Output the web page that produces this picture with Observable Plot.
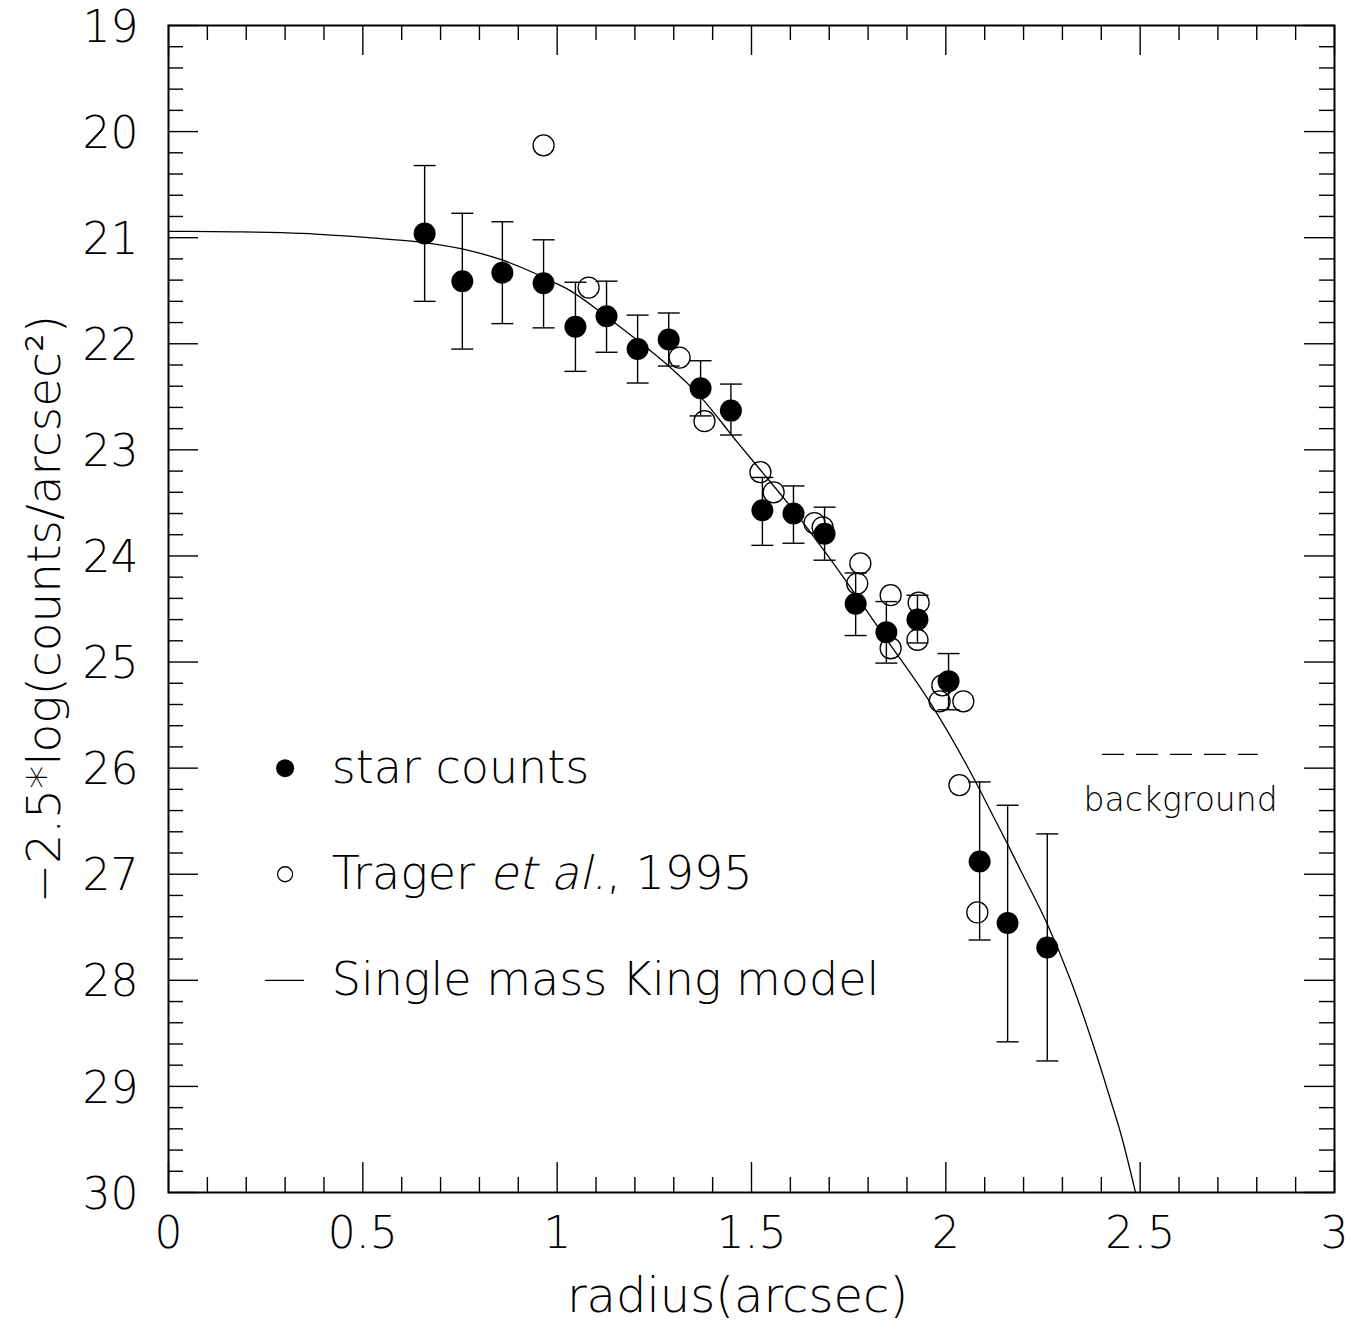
<!DOCTYPE html>
<html><head><meta charset="utf-8">
<script src="https://cdn.jsdelivr.net/npm/d3@7"></script>
<script src="https://cdn.jsdelivr.net/npm/@observablehq/plot@0.6"></script>
<style>
html,body{margin:0;padding:0;background:#fff;}
#chart svg{display:block;}
</style></head><body><div id="chart"></div>
<script>
// ---- star counts (filled circles with error bars) ----
const starR  = [0.659,0.756,0.859,0.965,1.047,1.127,1.207,1.287,1.369,1.447,1.528,1.608,1.688,1.768,1.847,1.927,2.007,2.087,2.159,2.261];
const starMu = [20.96,21.41,21.33,21.43,21.84,21.74,22.05,21.96,22.42,22.63,23.57,23.60,23.79,24.45,24.72,24.60,25.18,26.88,27.46,27.69];
const starLo = [20.32,20.77,20.85,21.02,21.42,21.41,21.73,21.71,22.16,22.38,23.26,23.34,23.54,24.16,24.43,24.37,24.92,26.13,26.35,26.62];
const starHi = [21.60,22.05,21.81,21.85,22.26,22.08,22.37,22.21,22.68,22.86,23.90,23.88,24.04,24.75,25.01,24.82,25.45,27.62,28.58,28.76];
// ---- Trager et al. 1995 (open circles) ----
const tragerR  = [0.965,1.081,1.315,1.379,1.523,1.557,1.662,1.683,1.780,1.772,1.858,1.858,1.930,1.927,1.991,1.984,2.045,2.035,2.081];
const tragerMu = [20.13,21.47,22.13,22.73,23.21,23.40,23.69,23.73,24.07,24.26,24.37,24.87,24.44,24.79,25.22,25.37,25.37,26.16,27.36];
// ---- single mass King model ----
const kingR  = [0,0.172,0.343,0.515,0.643,0.772,0.858,0.945,0.991,1.029,1.129,1.207,1.284,1.369,1.464,1.523,1.593,1.685,1.850,1.961,2.071,2.123,2.158,2.192,2.261,2.321,2.390,2.424,2.449,2.488];
const kingMu = [20.94,20.945,20.96,21.00,21.04,21.12,21.21,21.34,21.42,21.49,21.75,21.97,22.20,22.50,22.93,23.19,23.50,23.94,24.80,25.39,26.09,26.46,26.71,26.96,27.47,28.00,28.73,29.13,29.43,30.0];
// ---- axes ----
const xTickLabels = [0, 0.5, 1, 1.5, 2, 2.5, 3];
const yTickLabels = [19,20,21,22,23,24,25,26,27,28,29,30];
const xTitle = "radius(arcsec)";
const yTitle = "\u22122.5*log(counts/arcsec\u00B2)";
// ---- legend ----
const legendItems = ["star counts", "Trager et al., 1995", "Single mass King model"];
const bgLabel = "background";

const W = 1364, H = 1324, mL = 168, mR = 30, mT = 25, mB = 132;
const fw = W - mL - mR, fh = H - mT - mB;
const FONT = "'DejaVu Sans', sans-serif";

const stars = starR.map((r, i) => ({r, mu: starMu[i], lo: starLo[i], hi: starHi[i]}));
const trager = tragerR.map((r, i) => ({r, mu: tragerMu[i]}));
const king = kingR.map((r, i) => ({r, mu: kingMu[i]}));

const xMinor = d3.range(0, 3.0001, 0.1).filter(v => Math.abs(v * 2 - Math.round(v * 2)) > 1e-6);
const yMinor = d3.range(19, 30.0001, 0.2).filter(v => Math.abs(v - Math.round(v)) > 1e-6);

const cap = {draw(ctx, size) { const h = Math.sqrt(size / Math.PI); ctx.moveTo(-h, 0); ctx.lineTo(h, 0); }};

const leg = [
  {x: 0.3, y: 26, text: legendItems[0]},
  {x: 0.3, y: 27, text: legendItems[1]},
  {x: 0.3, y: 28, text: legendItems[2]}
];

const tick = {stroke: "black", strokeWidth: 1.4};

const chart = Plot.plot({
  width: W, height: H,
  marginLeft: mL, marginRight: mR, marginTop: mT, marginBottom: mB,
  style: {fontFamily: FONT, fontWeight: 200, background: "white", color: "black"},
  x: {domain: [0, 3], axis: null},
  y: {domain: [19, 30], reverse: true, axis: null},
  marks: [
    // ticks (inward, all four sides)
    Plot.tickX(xTickLabels, {x: d => d, insetTop: fh - 30, ...tick}),
    Plot.tickX(xMinor, {x: d => d, insetTop: fh - 15, ...tick}),
    Plot.tickX(xTickLabels, {x: d => d, insetBottom: fh - 30, ...tick}),
    Plot.tickX(xMinor, {x: d => d, insetBottom: fh - 15, ...tick}),
    Plot.tickY(yTickLabels, {y: d => d, insetRight: fw - 30, ...tick}),
    Plot.tickY(yMinor, {y: d => d, insetRight: fw - 15, ...tick}),
    Plot.tickY(yTickLabels, {y: d => d, insetLeft: fw - 30, ...tick}),
    Plot.tickY(yMinor, {y: d => d, insetLeft: fw - 15, ...tick}),
    Plot.frame({stroke: "black", strokeWidth: 2}),
    // tick labels
    Plot.text(xTickLabels, {x: d => d, text: d => String(d), frameAnchor: "bottom", lineAnchor: "middle", dy: 41, fontSize: 44, fill: "black"}),
    Plot.text(yTickLabels, {y: d => d, text: d => String(d), frameAnchor: "left", lineAnchor: "middle", dx: -30, dy: 2, textAnchor: "end", fontSize: 44, fill: "black"}),
    // axis titles
    Plot.text([xTitle], {text: d => d, frameAnchor: "bottom", lineAnchor: "middle", textAnchor: "middle", dy: 104, dx: -14, fontSize: 48, fill: "black"}),
    Plot.text([yTitle], {text: d => d, frameAnchor: "left", lineAnchor: "middle", textAnchor: "middle", dx: -124, rotate: -90, fontSize: 47, fill: "black"}),
    // King model
    Plot.line(king, {x: "r", y: "mu", curve: "monotone-x", stroke: "black", strokeWidth: 1.3}),
    // error bars
    Plot.ruleX(stars, {x: "r", y1: "lo", y2: "hi", stroke: "black", strokeWidth: 1.4}),
    Plot.dot(stars, {x: "r", y: "lo", symbol: cap, r: 11, stroke: "black", fill: "none", strokeWidth: 1.4}),
    Plot.dot(stars, {x: "r", y: "hi", symbol: cap, r: 11, stroke: "black", fill: "none", strokeWidth: 1.4}),
    // Trager open circles
    Plot.dot(trager, {x: "r", y: "mu", r: 10.5, stroke: "black", fill: "none", strokeWidth: 1.3}),
    // star counts
    Plot.dot(stars, {x: "r", y: "mu", r: 11, fill: "black", stroke: "none"}),
    // legend
    Plot.dot([leg[0]], {x: "x", y: "y", r: 9, fill: "black"}),
    Plot.dot([leg[1]], {x: "x", y: "y", r: 7.5, stroke: "black", fill: "none", strokeWidth: 1.3}),
    Plot.ruleY([leg[2]], {y: "y", x1: d => d.x - 0.05, x2: d => d.x + 0.05, stroke: "black", strokeWidth: 1.3}),
    Plot.text(leg, {x: d => d.x + 0.12, y: "y", text: "text", textAnchor: "start", lineAnchor: "middle", fontSize: 46, fill: "black"}),
    // background legend
    Plot.ruleY([{y: 25.87, x1: 2.403, x2: 2.804}], {y: "y", x1: "x1", x2: "x2", stroke: "black", strokeWidth: 1.3, strokeDasharray: "22,12"}),
    Plot.text([{x: 2.604, y: 26.3, text: bgLabel}], {x: "x", y: "y", text: "text", lineAnchor: "middle", fontSize: 33, fill: "black"})
  ]
});

document.getElementById("chart").appendChild(chart);

// "et al." in a slanted light face (skewed copy of the same glyphs)
const NS = "http://www.w3.org/2000/svg";
const tt = [...chart.querySelectorAll("text")].find(t => t.textContent === legendItems[1]);
if (tt) {
  const full = legendItems[1];
  const i0 = full.indexOf("et al.");
  tt.textContent = "";
  const parts = [full.slice(0, i0), "et al.", full.slice(i0 + 6)];
  const spans = parts.map(s => { const ts = document.createElementNS(NS, "tspan"); ts.textContent = s; tt.appendChild(ts); return ts; });
  spans[1].setAttribute("fill-opacity", "0");
  const p = tt.getStartPositionOfChar(i0);
  const it = tt.cloneNode(false);
  it.removeAttribute("dy");
  it.setAttribute("x", p.x);
  it.setAttribute("y", p.y);
  it.setAttribute("text-anchor", "start");
  it.textContent = "et al.";
  const tr = tt.getAttribute("transform") || "";
  it.setAttribute("transform", `${tr} translate(${p.x},${p.y}) skewX(-13) translate(${-p.x},${-p.y})`);
  tt.parentNode.appendChild(it);
}
</script>
</body></html>
